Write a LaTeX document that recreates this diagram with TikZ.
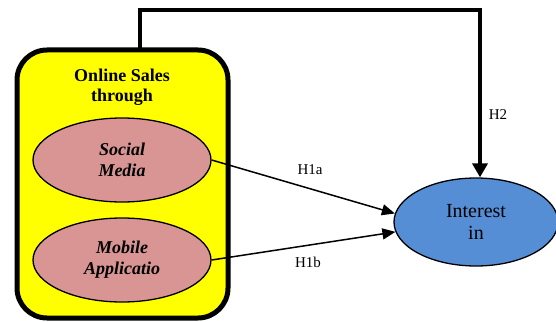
\documentclass[tikz,border=0pt]{standalone}
\usepackage{fontspec}
\setmainfont{Liberation Serif}
\usetikzlibrary{shapes.geometric}
\usetikzlibrary{arrows.meta}
\usetikzlibrary{calc}
\definecolor{boxyellow}{HTML}{FFFF00}
\definecolor{pinkfill}{HTML}{D99594}
\definecolor{bluefill}{HTML}{558ED5}

\begin{document}
\begin{tikzpicture}[x=1pt,y=-1pt,
  factor/.style={ellipse,draw,line width=1.3pt,inner sep=0pt,minimum width=178pt,minimum height=84pt,fill=pinkfill,align=center,font=\fontsize{18}{21}\selectfont\bfseries\itshape},
  hyp/.style={font=\fontsize{15}{17}\selectfont}]
\useasboundingbox (0,0) rectangle (556,321);
\node (box) at (122.5,184) [draw,line width=5pt,fill=boxyellow,rounded corners=30pt,minimum width=211pt,minimum height=268pt] {};
\node (title) at (122,87) [align=center,font=\fontsize{18}{20}\selectfont\bfseries] {Online Sales\\through};
\node (sm) at (122,160) [factor] {Social\\Media};
\node (ma) at (122,260) [factor] {Mobile\\Applicatio};
\node (int) at (476,222) [ellipse,draw,line width=1.3pt,inner sep=0pt,minimum width=164pt,minimum height=88pt,fill=bluefill,align=center,font=\fontsize{20}{22}\selectfont] {Interest\\in};
\coordinate (h2start) at (140,48);
\coordinate (h2turn) at (480,10);
\draw[line width=4.5pt,-{Triangle[length=14pt,width=15pt]}] (h2start) |- (h2turn) -- (h2turn |- int.north);
\draw[line width=1.5pt,-{Triangle[length=13pt,width=11pt]}] (sm.east) -- (int.174);
\draw[line width=1.5pt,-{Triangle[length=13pt,width=11pt]}] (ma.east) -- (int.187);
\node (h1a) at (310,170) [hyp] {H1a};
\node (h1b) at (308,262) [hyp] {H1b};
\node (h2) at (498,115) [hyp] {H2};
\end{tikzpicture}
\end{document}
